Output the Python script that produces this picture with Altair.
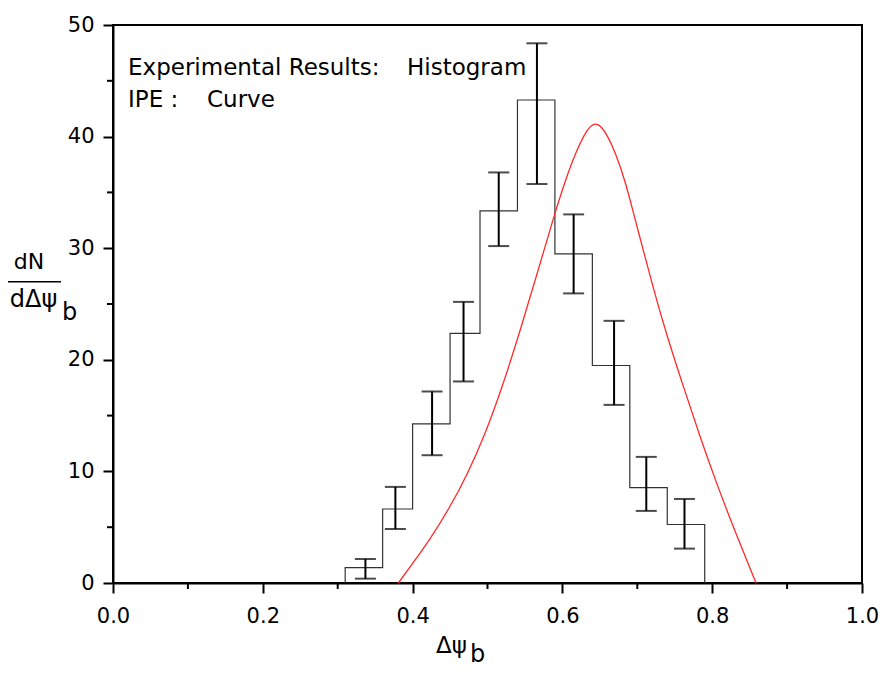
import altair as alt
import pandas as pd

# ---- data ----
bin_edges = [0.31, 0.36, 0.40, 0.45, 0.49, 0.54, 0.59, 0.64, 0.69, 0.74, 0.79]
bin_heights = [1.38, 6.63, 14.26, 22.36, 33.35, 43.28, 29.5, 19.49, 8.55, 5.24]

err_x = [0.337, 0.377, 0.426, 0.468, 0.515, 0.566, 0.615, 0.669, 0.712, 0.763]
err_hi = [2.15, 8.61, 17.16, 25.19, 36.79, 48.36, 33.03, 23.49, 11.3, 7.53]
err_lo = [0.39, 4.84, 11.45, 18.06, 30.19, 35.75, 25.95, 15.96, 6.46, 3.08]

curve_x = [0.381, 0.400, 0.4232, 0.4499, 0.4722, 0.4967, 0.520, 0.545, 0.5675,
           0.5879, 0.605, 0.618, 0.630, 0.638, 0.645, 0.652, 0.660, 0.670,
           0.6836, 0.697, 0.7081, 0.7214, 0.7393, 0.7615, 0.7837, 0.806, 0.8282, 0.8585]
curve_y = [0.0, 1.75, 3.9, 6.8, 9.6, 13.3, 17.6, 22.9, 28.0,
           32.7, 36.3, 38.6, 40.3, 41.0, 41.2, 40.9, 40.1, 38.7,
           36.1, 32.6, 29.8, 26.4, 22.2, 17.6, 13.1, 8.9, 5.0, 0.0]

x_major = [0.0, 0.2, 0.4, 0.6, 0.8, 1.0]
x_minor = [0.1, 0.3, 0.5, 0.7, 0.9]
y_major = [0, 10, 20, 30, 40, 50]
y_minor = [5, 15, 25, 35, 45]

FONT = "DejaVu Sans"

# ---- tables built from the arrays ----
step_x = [bin_edges[0]] + bin_edges[:-1] + [bin_edges[-1]]
step_y = [0.0] + bin_heights + [0.0]
hist_df = pd.DataFrame({"x": step_x, "y": step_y, "i": list(range(len(step_x)))})
err_df = pd.DataFrame({"x": err_x, "y": err_lo, "y2": err_hi})
caps_df = pd.DataFrame({"x": err_x + err_x, "y": err_hi + err_lo})
curve_df = pd.DataFrame({"x": curve_x, "y": curve_y, "i": list(range(len(curve_x)))})
xminor_df = pd.DataFrame({"x": x_minor})
yminor_df = pd.DataFrame({"y": y_minor})

xs = alt.Scale(domain=[0, 1], nice=False, zero=False)
ys = alt.Scale(domain=[0, 50], nice=False, zero=False)
xaxis = alt.Axis(values=x_major, format=".1f", title=None, grid=False,
                 tickSize=10, tickWidth=2, tickColor="black",
                 domainWidth=2, domainColor="black",
                 labelFont=FONT, labelFontSize=21, labelColor="black",
                 labelPadding=12, labelFlush=False)
yaxis = alt.Axis(values=y_major, format="d", title=None, grid=False,
                 tickSize=10, tickWidth=2, tickColor="black",
                 domainWidth=2, domainColor="black",
                 labelFont=FONT, labelFontSize=21, labelColor="black",
                 labelPadding=9, labelFlush=False)

X = lambda f="x:Q": alt.X(f, scale=xs, axis=xaxis)
Y = lambda f="y:Q": alt.Y(f, scale=ys, axis=yaxis)

hist = alt.Chart(hist_df).mark_line(
    interpolate="step-after", color="#333333", strokeWidth=1.2
).encode(x=X(), y=Y(), order="i:Q")

err = alt.Chart(err_df).mark_rule(color="black", strokeWidth=2).encode(
    x=X(), y=Y(), y2="y2:Q")

caps = alt.Chart(caps_df).mark_tick(
    orient="horizontal", size=21, thickness=2, color="black"
).encode(x=X(), y=Y())

curve = alt.Chart(curve_df).mark_line(
    interpolate="basis", color="#ff2a2a", strokeWidth=1.3
).encode(x=X(), y=Y(), order="i:Q")

xminor = alt.Chart(xminor_df).mark_rule(color="black", strokeWidth=2).encode(
    x=X(), y=alt.value(558), y2=alt.value(564))
yminor = alt.Chart(yminor_df).mark_rule(color="black", strokeWidth=2).encode(
    y=Y(), x=alt.value(0), x2=alt.value(-6))

def label(text, x, y, size, align="left"):
    return alt.Chart(pd.DataFrame({"t": [text]})).mark_text(
        font=FONT, fontSize=size, color="black", align=align, baseline="alphabetic"
    ).encode(x=alt.value(x), y=alt.value(y), text="t:N")

texts = [
    label("Experimental Results:", 15, 50, 23),
    label("Histogram", 294, 50, 23),
    label("IPE :", 15, 82, 23),
    label("Curve", 94, 82, 23),
    # x title
    label("\u0394\u03c8", 338.5, 628, 23, "center"),
    label("b", 357, 637, 24),
    # y title (fraction)
    label("dN", -84, 244, 22, "center"),
    label("d\u0394\u03c8", -79.5, 282, 24, "center"),
    label("b", -51, 295, 24),
]
frac = alt.Chart(pd.DataFrame({"t": [0]})).mark_rule(color="black", strokeWidth=1.5).encode(
    x=alt.value(-109), x2=alt.value(-52), y=alt.value(256.7))

chart = alt.layer(hist, curve, err, caps, xminor, yminor, frac, *texts).properties(
    width=749, height=558,
    autosize=alt.AutoSizeParams(type="none"),
    padding={"left": 105, "top": 17, "right": 19, "bottom": 84},
).configure(
    background="white",
    view=alt.ViewConfig(stroke="black", strokeWidth=2),
)

chart.save("out.html", embed_options={"renderer": "svg", "actions": False})
